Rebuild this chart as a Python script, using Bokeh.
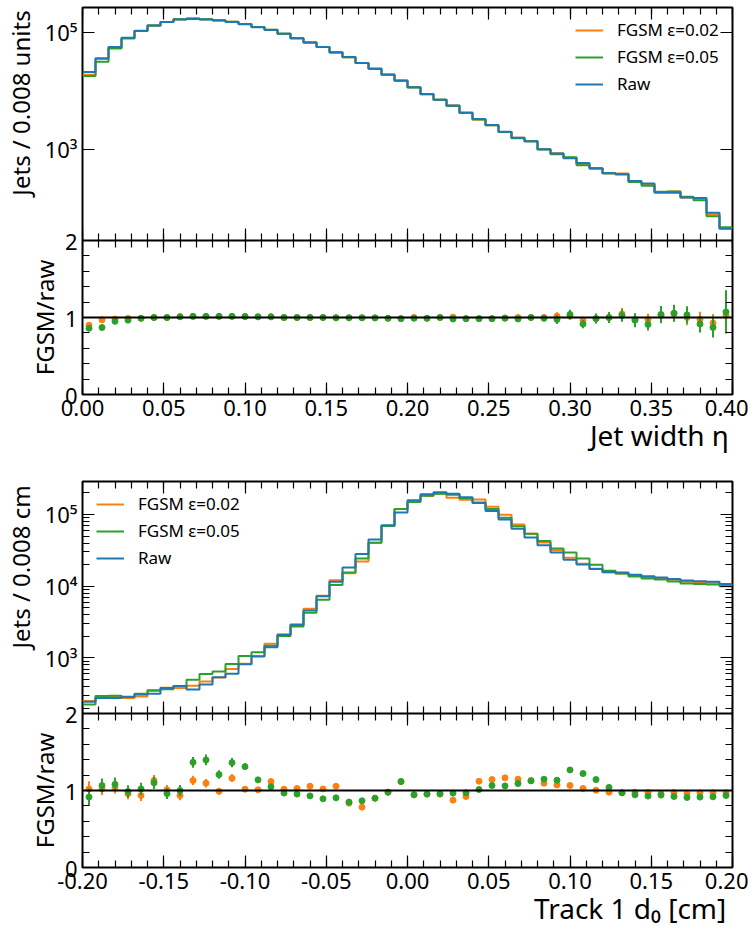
import json
from bokeh.plotting import figure
from bokeh.models import (Range1d, LinearAxis, LogAxis, FixedTicker, CustomJSTickFormatter,
                          NumeralTickFormatter, Span, Legend, LegendItem, LinearScale)
from bokeh.layouts import column
from bokeh.embed import file_html
from bokeh.resources import INLINE

# ---------------- data: jet width ----------------
width_lo = 0.0
width_bin = 0.008
width_raw = [21000, 36300, 56200, 81300, 107000, 132000, 151000, 166000, 170000, 166000,
             160000, 151000, 138000, 123000, 110000, 95500, 79400, 67600, 56200, 45700,
             38000, 30200, 24000, 19100, 15100, 11600, 8910, 7080, 5620, 4270,
             3310, 2630, 2000, 1580, 1380, 1010, 851, 708, 589, 479,
             394, 372, 288, 263, 182, 182, 151, 148, 83, 44]
width_fgsm02 = [18900, 35200, 55100, 80500, 106000, 132000, 151000, 168000, 173000, 168000,
                162000, 153000, 140000, 124000, 111000, 95500, 79400, 67600, 56200, 45500,
                37800, 30100, 23900, 18900, 14900, 11600, 8820, 7080, 5650, 4210,
                3260, 2590, 1990, 1580, 1380, 1010, 865, 720, 565, 471,
                394, 389, 281, 256, 187, 191, 151, 144, 77, 45]
width_fgsm05 = [18100, 31600, 53400, 78500, 106000, 132000, 151000, 168000, 173000, 168000,
                162000, 153000, 140000, 124000, 111000, 95500, 79400, 67600, 56200, 45500,
                37800, 30100, 23900, 18900, 14900, 11500, 8820, 7080, 5510, 4210,
                3260, 2590, 1980, 1550, 1380, 1000, 829, 736, 538, 473,
                394, 382, 278, 239, 189, 192, 156, 135, 72, 47]
width_ratio02 = [0.90, 0.97, 0.98, 0.99, 0.99, 1.00, 1.00, 1.01, 1.015, 1.015,
                 1.015, 1.015, 1.013, 1.009, 1.009, 1.00, 1.00, 1.00, 1.00, 0.996,
                 0.996, 0.996, 0.995, 0.99, 0.985, 1.00, 0.99, 1.00, 1.005, 0.985,
                 0.985, 0.985, 0.995, 1.00, 1.00, 1.00, 1.017, 1.017, 0.96, 0.983,
                 1.00, 1.047, 0.974, 0.974, 1.026, 1.05, 1.00, 0.974, 0.927, 1.026]
width_ratio05 = [0.86, 0.87, 0.95, 0.965, 0.99, 1.00, 1.00, 1.01, 1.015, 1.015,
                 1.015, 1.015, 1.013, 1.009, 1.009, 1.00, 1.00, 1.00, 1.00, 0.996,
                 0.996, 0.996, 0.995, 0.99, 0.985, 0.99, 0.99, 1.00, 0.98, 0.985,
                 0.985, 0.985, 0.99, 0.98, 1.00, 0.99, 0.974, 1.04, 0.914, 0.987,
                 1.00, 1.026, 0.965, 0.91, 1.04, 1.056, 1.035, 0.914, 0.87, 1.073]
width_err02 = [0.006, 0.005, 0.004, 0.004, 0.003, 0.003, 0.003, 0.003, 0.003, 0.003,
               0.003, 0.003, 0.003, 0.003, 0.003, 0.003, 0.004, 0.004, 0.004, 0.005,
               0.005, 0.006, 0.006, 0.007, 0.008, 0.009, 0.011, 0.012, 0.013, 0.015,
               0.017, 0.02, 0.022, 0.025, 0.027, 0.035, 0.05, 0.05, 0.05, 0.06,
               0.065, 0.075, 0.08, 0.075, 0.10, 0.10, 0.10, 0.10, 0.12, 0.20]
width_err05 = [0.006, 0.005, 0.004, 0.004, 0.003, 0.003, 0.003, 0.003, 0.003, 0.003,
               0.003, 0.003, 0.003, 0.003, 0.003, 0.003, 0.004, 0.004, 0.004, 0.005,
               0.005, 0.006, 0.006, 0.007, 0.008, 0.009, 0.011, 0.012, 0.013, 0.015,
               0.017, 0.02, 0.022, 0.03, 0.03, 0.04, 0.06, 0.06, 0.055, 0.065,
               0.07, 0.08, 0.09, 0.08, 0.11, 0.11, 0.11, 0.11, 0.13, 0.28]

# ---------------- data: track 1 d0 ----------------
d0_lo = -0.2
d0_bin = 0.008
d0_raw = [245, 275, 275, 288, 309, 316, 380, 407, 363, 427,
          537, 603, 813, 1050, 1410, 2090, 2880, 4570, 7240, 11500,
          18200, 28200, 44700, 70800, 107000, 158000, 191000, 204000, 195000, 174000,
          145000, 112000, 85100, 63100, 47900, 37200, 29500, 23400, 20000, 17400,
          15800, 15500, 14500, 13800, 13200, 12600, 12000, 11700, 11500, 10700]
d0_fgsm02 = [250, 281, 286, 276, 289, 357, 384, 381, 410, 468,
             532, 699, 827, 1060, 1570, 2130, 2950, 4830, 7380, 12100,
             15200, 22100, 40200, 69200, 119000, 149000, 182000, 194000, 171000, 160000,
             162000, 128000, 99100, 72400, 54100, 40700, 31700, 24900, 20500, 17500,
             15500, 15000, 14200, 13400, 12700, 12300, 11500, 11300, 11200, 10400]
d0_fgsm05 = [224, 293, 297, 284, 315, 348, 365, 407, 496, 597,
             648, 821, 1065, 1195, 1480, 2020, 2740, 4250, 6460, 10400,
             15500, 24400, 40200, 69200, 119000, 149000, 182000, 195000, 188000, 169000,
             147000, 119000, 90200, 68800, 53900, 42700, 33500, 29600, 24400, 19900,
             16400, 15000, 13700, 12800, 12400, 11600, 10900, 10700, 10600, 10000]
d0_ratio02 = [1.02, 1.02, 1.04, 0.957, 0.935, 1.13, 1.01, 0.935, 1.13, 1.095,
              0.99, 1.16, 1.017, 1.01, 1.116, 1.017, 1.026, 1.056, 1.02, 1.056,
              0.836, 0.784, 0.90, 0.978, 1.116, 0.944, 0.953, 0.953, 0.875, 0.922,
              1.12, 1.142, 1.164, 1.147, 1.13, 1.095, 1.073, 1.065, 1.026, 1.004,
              0.978, 0.97, 0.978, 0.974, 0.96, 0.974, 0.957, 0.97, 0.97, 0.97]
d0_ratio05 = [0.914, 1.065, 1.08, 0.987, 1.02, 1.10, 0.96, 1.00, 1.366, 1.397,
              1.207, 1.362, 1.31, 1.138, 1.05, 0.966, 0.953, 0.93, 0.892, 0.905,
              0.85, 0.866, 0.90, 0.978, 1.116, 0.944, 0.953, 0.957, 0.966, 0.97,
              1.013, 1.065, 1.06, 1.09, 1.125, 1.147, 1.134, 1.267, 1.22, 1.142,
              1.04, 0.97, 0.944, 0.927, 0.94, 0.922, 0.91, 0.914, 0.918, 0.935]
d0_err02 = [0.10, 0.08, 0.08, 0.07, 0.07, 0.07, 0.06, 0.06, 0.06, 0.055,
            0.045, 0.05, 0.035, 0.03, 0.02, 0.015, 0.012, 0.01, 0.008, 0.006,
            0.005, 0.004, 0.003, 0.003, 0.002, 0.002, 0.002, 0.002, 0.002, 0.002,
            0.002, 0.002, 0.003, 0.003, 0.003, 0.004, 0.004, 0.004, 0.005, 0.005,
            0.005, 0.005, 0.005, 0.005, 0.005, 0.006, 0.006, 0.006, 0.006, 0.006]
d0_err05 = [0.11, 0.09, 0.09, 0.08, 0.08, 0.08, 0.07, 0.07, 0.07, 0.07,
            0.055, 0.06, 0.045, 0.035, 0.025, 0.02, 0.015, 0.012, 0.009, 0.007,
            0.005, 0.004, 0.003, 0.003, 0.002, 0.002, 0.002, 0.002, 0.002, 0.002,
            0.002, 0.002, 0.003, 0.003, 0.003, 0.004, 0.004, 0.004, 0.005, 0.005,
            0.005, 0.005, 0.005, 0.005, 0.005, 0.006, 0.006, 0.006, 0.006, 0.006]

# tick labels
width_xticks = [0.00, 0.05, 0.10, 0.15, 0.20, 0.25, 0.30, 0.35, 0.40]
d0_xticks = [-0.20, -0.15, -0.10, -0.05, 0.00, 0.05, 0.10, 0.15, 0.20]
ratio_yticks = [0, 1, 2]
ratio_yminor = [0.2, 0.4, 0.6, 0.8, 1.2, 1.4, 1.6, 1.8]
width_log_ticks = [1e3, 1e5]
d0_log_ticks = [1e3, 1e4, 1e5]

# ---------------- style ----------------
FONT = "Noto Sans"
C02, C05, CRAW = "#ff7f0e", "#2ca02c", "#1f77b4"
FRAME_W = 650
RATIO_H = 154
RPX = RATIO_H / 2.0   # pixels per ratio unit
TICK_FS = "22px"

YFMT_JS = """
if (tick > bnd * 1.01) {
  const sup = {"-":"\u207b","0":"\u2070","1":"\u00b9","2":"\u00b2","3":"\u00b3","4":"\u2074",
               "5":"\u2075","6":"\u2076","7":"\u2077","8":"\u2078","9":"\u2079"};
  const e = Math.round(Math.log10(tick));
  return "10" + String(e).split("").map(c => sup[c]).join("");
}
const r = (Math.log10(tick) - lo_exp) * dpx / rpx;
return String(Math.round(r));
"""


def tick_style(ax, major, minor, show_labels, out=False, line=False):
    ax.major_tick_in = major
    ax.minor_tick_in = minor
    ax.major_tick_out = major if out else 0
    ax.minor_tick_out = minor if out else 0
    ax.major_tick_line_color = "black"
    ax.minor_tick_line_color = "black"
    ax.major_tick_line_width = 1.2
    ax.minor_tick_line_width = 1.2
    ax.axis_line_color = "black" if line else None
    ax.axis_line_width = 2
    ax.major_label_text_font = FONT
    ax.major_label_text_font_size = TICK_FS
    ax.major_label_standoff = 5
    ax.major_label_text_color = "black" if show_labels else None


def title_axis(cls, pos, text, size, standoff, orientation, **kw):
    ax = cls(ticker=FixedTicker(ticks=[pos], minor_ticks=[]),
             formatter=CustomJSTickFormatter(code="return %s;" % json.dumps(text)), **kw)
    ax.major_tick_in = 0
    ax.major_tick_out = 0
    ax.minor_tick_in = 0
    ax.minor_tick_out = 0
    ax.axis_line_color = None
    ax.major_label_text_font = FONT
    ax.major_label_text_font_size = size
    ax.major_label_text_color = "black"
    ax.major_label_standoff = standoff
    ax.major_label_orientation = orientation
    return ax


def minor_list(lo, hi, step):
    n = int(round((hi - lo) / step))
    return [round(lo + step * i, 4) for i in range(n + 1)]


def make_plot(lo, w, raw, f02, f05, rat02, err02, rat05, err05,
              xticks, ymajor, minor_log, H, b_log, decade_px, ylabel, ylabel_center_px,
              xlabel, xlabel_center, top_border, bottom_border, left_border, legend_loc):
    n = len(raw)
    x0, x1 = lo, lo + w * n
    rtop = 2.0 * H / RATIO_H
    hi_exp = b_log + (H - RATIO_H) / decade_px
    lo_exp = b_log - RATIO_H / decade_px
    bnd = 10 ** b_log

    def rpos(r):
        return 10 ** (lo_exp + r * RPX / decade_px)

    y_major = [rpos(r) for r in ratio_yticks] + list(ymajor)
    y_minor = [rpos(r) for r in ratio_yminor] + [v for v in minor_log if bnd < v < 10 ** hi_exp]

    p = figure(frame_width=FRAME_W, frame_height=H, x_range=Range1d(x0, x1),
               y_range=Range1d(10 ** lo_exp, 10 ** hi_exp), y_axis_type="log",
               extra_y_ranges={"ratio": Range1d(0, rtop)},
               extra_y_scales={"ratio": LinearScale()},
               output_backend="svg", toolbar_location=None,
               min_border_left=left_border, min_border_right=16,
               min_border_top=top_border, min_border_bottom=bottom_border)
    p.outline_line_color = "black"
    p.outline_line_width = 2
    p.xgrid.visible = False
    p.ygrid.visible = False

    xt = FixedTicker(ticks=xticks, minor_ticks=minor_list(x0, x1, 0.01))
    yt = FixedTicker(ticks=y_major, minor_ticks=y_minor)

    # bottom x axis with labels
    bx = p.xaxis[0]
    bx.ticker = xt
    bx.formatter = NumeralTickFormatter(format="0.00")
    tick_style(bx, 12, 7, True)
    # x title (stacked below)
    p.add_layout(title_axis(LinearAxis, xlabel_center, xlabel, "28px", -3, "horizontal"),
                 "below")

    # left y axis: log ticks of the upper panel and ratio ticks of the lower panel
    ly = p.yaxis[0]
    ly.ticker = yt
    ly.formatter = CustomJSTickFormatter(
        args=dict(bnd=bnd, lo_exp=lo_exp, dpx=decade_px, rpx=RPX), code=YFMT_JS)
    tick_style(ly, 12, 7, True)
    # y titles (stacked outward)
    p.add_layout(title_axis(LogAxis, rpos(1), "FGSM/raw", "24px", -19, "vertical"), "left")
    p.add_layout(title_axis(LogAxis, 10 ** (hi_exp - ylabel_center_px / decade_px), ylabel,
                            "24px", -12, "vertical"), "left")

    # top ticks
    tx = LinearAxis(y_range_name="ratio", fixed_location=rtop, ticker=xt)
    tick_style(tx, 12, 7, False)
    p.add_layout(tx, "above")
    # separator between panels
    mx = LinearAxis(y_range_name="ratio", fixed_location=2, ticker=xt)
    tick_style(mx, 12, 7, False, out=True, line=True)
    p.add_layout(mx, "below")
    # right ticks
    rl = LogAxis(fixed_location=x1, ticker=yt)
    tick_style(rl, 12, 7, False)
    p.add_layout(rl, "right")

    # histograms
    edges = [lo + w * i for i in range(n + 1)]
    h02 = p.step(edges, list(f02) + [f02[-1]], mode="after", line_color=C02, line_width=2)
    h05 = p.step(edges, list(f05) + [f05[-1]], mode="after", line_color=C05, line_width=2)
    hr = p.step(edges, list(raw) + [raw[-1]], mode="after", line_color=CRAW, line_width=2)
    legend = Legend(items=[LegendItem(label="FGSM \u03b5=0.02", renderers=[h02]),
                           LegendItem(label="FGSM \u03b5=0.05", renderers=[h05]),
                           LegendItem(label="Raw", renderers=[hr])],
                    location=legend_loc, padding=0, margin=0, spacing=4,
                    glyph_width=28, glyph_height=20, label_height=20, label_standoff=14,
                    border_line_color=None, background_fill_alpha=0,
                    label_text_font=FONT, label_text_font_size="17px",
                    label_text_color="black")
    p.add_layout(legend)

    # ratio panel
    p.add_layout(Span(location=1, dimension="width", y_range_name="ratio",
                      line_color="black", line_width=2))
    xc = [lo + w * (i + 0.5) for i in range(n)]
    for rat, err, col in ((rat02, err02, C02), (rat05, err05, C05)):
        ylo = [r - e for r, e in zip(rat, err)]
        yhi = [r + e for r, e in zip(rat, err)]
        p.segment(x0=xc, y0=ylo, x1=xc, y1=yhi, line_color=col, line_width=2,
                  y_range_name="ratio")
        p.scatter(xc, rat, size=6, marker="circle", fill_color=col, line_color=col,
                  y_range_name="ratio")
    return p


d0_minor = [k * 10.0 ** d for d in (2, 3, 4, 5) for k in range(2, 10)]

p1 = make_plot(width_lo, width_bin, width_raw, width_fgsm02, width_fgsm05,
               width_ratio02, width_err02, width_ratio05, width_err05,
               width_xticks, width_log_ticks, [], 387, 1.444, 58.5,
               "Jets / 0.008 units", 95.5, "Jet width \u03b7", 0.355,
               7, 82, 78, (493, 299))
p2 = make_plot(d0_lo, d0_bin, d0_raw, d0_fgsm02, d0_fgsm05,
               d0_ratio02, d0_err02, d0_ratio05, d0_err05,
               d0_xticks, d0_log_ticks, d0_minor, 386, 2.2245, 71.7,
               "Jets / 0.008 cm", 85.5, "Track 1 d\u2080 [cm]", 0.137,
               5, 0, 79, (14, 298))

layout = column(p1, p2)
open("out.html", "w").write(file_html(layout, INLINE))
